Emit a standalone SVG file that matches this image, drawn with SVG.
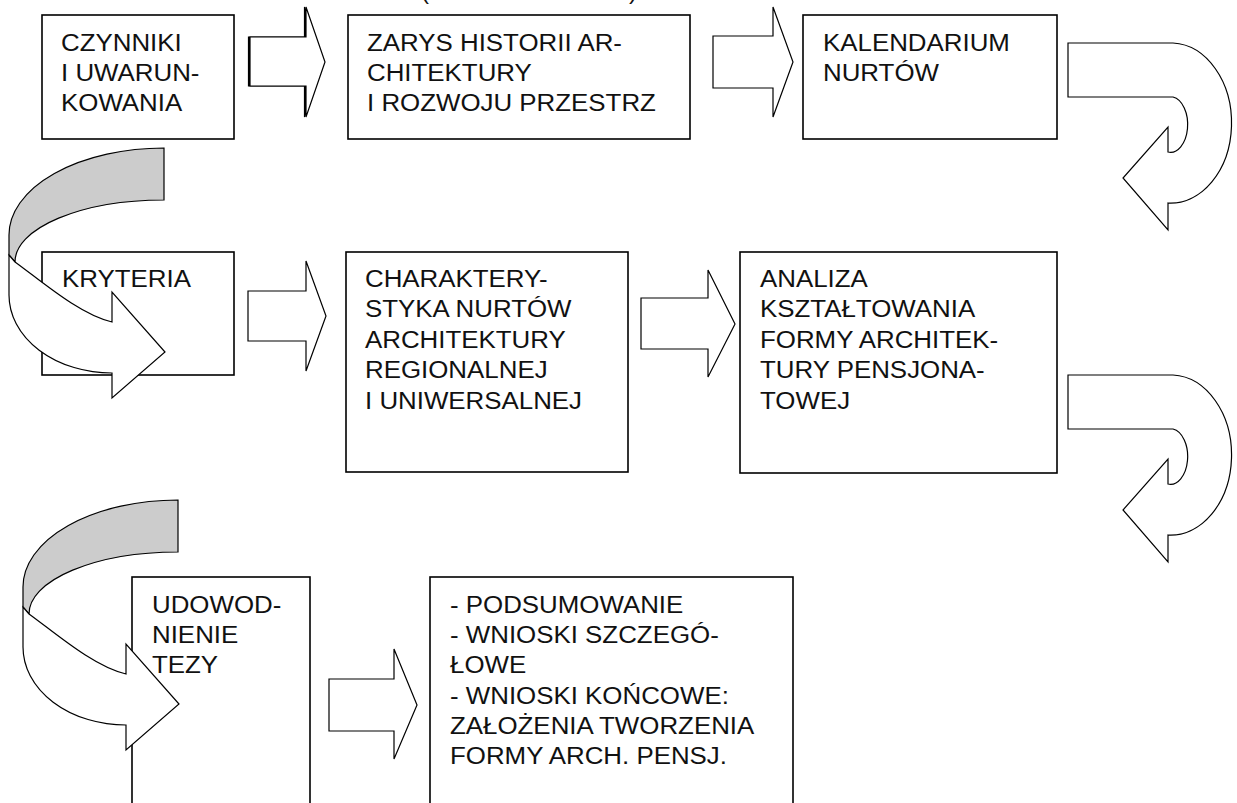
<svg xmlns="http://www.w3.org/2000/svg" width="1237" height="803" viewBox="0 0 1237 803">
<style>
.box{fill:#fff;stroke:#000;stroke-width:1.6}
.arr{fill:#fff;stroke:#000;stroke-width:1.2;stroke-linejoin:miter}
.gray{fill:#cccccc;stroke:#000;stroke-width:1.2}
.t{font-family:"Liberation Sans",Arial,sans-serif;font-size:24.3px;fill:#111}
</style>
<rect width="1237" height="803" fill="#fff"/>
<text class="t" x="421" y="-1">(</text>
<text class="t" x="629" y="-1">)</text>
<g id="n1"><rect class="box" x="42" y="15" width="192" height="124"/>
<text class="t" transform="translate(61,50.7) scale(1.065,1)"><tspan x="0" y="0">CZYNNIKI</tspan><tspan x="0" y="30.4">I UWARUN-</tspan><tspan x="0" y="60.8">KOWANIA</tspan></text></g>
<g id="n2"><rect class="box" x="348" y="15" width="342" height="124"/>
<text class="t" transform="translate(367,50.7) scale(1.065,1)"><tspan x="0" y="0">ZARYS HISTORII AR-</tspan><tspan x="0" y="30.4">CHITEKTURY</tspan><tspan x="0" y="60.8">I ROZWOJU PRZESTRZ</tspan></text></g>
<g id="n3"><rect class="box" x="803" y="15" width="254" height="124"/>
<text class="t" transform="translate(823,50.7) scale(1.065,1)"><tspan x="0" y="0">KALENDARIUM</tspan><tspan x="0" y="30.4">NURTÓW</tspan></text></g>
<g id="n4"><rect class="box" x="42" y="252" width="192" height="123"/>
<text class="t" transform="translate(62,287) scale(1.065,1)"><tspan x="0" y="0">KRYTERIA</tspan></text></g>
<g id="n5"><rect class="box" x="346" y="252" width="282" height="220"/>
<text class="t" transform="translate(365,287) scale(1.065,1)"><tspan x="0" y="0">CHARAKTERY-</tspan><tspan x="0" y="30.4">STYKA NURTÓW</tspan><tspan x="0" y="60.8">ARCHITEKTURY</tspan><tspan x="0" y="91.2">REGIONALNEJ</tspan><tspan x="0" y="121.6">I UNIWERSALNEJ</tspan></text></g>
<g id="n6"><rect class="box" x="740" y="252" width="317" height="221"/>
<text class="t" transform="translate(760,287) scale(1.065,1)"><tspan x="0" y="0">ANALIZA</tspan><tspan x="0" y="30.4">KSZTAŁTOWANIA</tspan><tspan x="0" y="60.8">FORMY ARCHITEK-</tspan><tspan x="0" y="91.2">TURY PENSJONA-</tspan><tspan x="0" y="121.6">TOWEJ</tspan></text></g>
<g id="n7"><rect class="box" x="132" y="577" width="178" height="260"/>
<text class="t" transform="translate(152,612.7) scale(1.065,1)"><tspan x="0" y="0">UDOWOD-</tspan><tspan x="0" y="30.4">NIENIE</tspan><tspan x="0" y="60.8">TEZY</tspan></text></g>
<g id="n8"><rect class="box" x="430" y="577" width="363" height="260"/>
<text class="t" transform="translate(450,613) scale(1.065,1)"><tspan x="0" y="0">- PODSUMOWANIE</tspan><tspan x="0" y="30.2">- WNIOSKI SZCZEGÓ-</tspan><tspan x="0" y="60.4">ŁOWE</tspan><tspan x="0" y="90.6">- WNIOSKI KOŃCOWE:</tspan><tspan x="0" y="120.8">ZAŁOŻENIA TWORZENIA</tspan><tspan x="0" y="151">FORMY ARCH. PENSJ.</tspan></text></g>
<g id="connectors">
<path d="M248.5,37 L304.5,37 L304.5,7 L323.5,62 L304.5,117 L304.5,86 L248.5,86 Z" fill="#000" stroke="#000" stroke-width="1.2"/>
<path class="arr" d="M250,37 L306,37 L306,7 L325,62 L306,117 L306,86 L250,86 Z"/>
<path class="arr" d="M713,36 L773,36 L773,7 L793,62 L773,117 L773,88 L713,88 Z"/>
<path class="arr" d="M1068,43 L1173,43 A61,80 0 0 1 1168,203 L1168,230 L1123,178 L1168,127 L1168,152 A17,27.5 0 0 0 1173,97 L1068,97 Z"/>
<path class="gray" d="M164,148 A155,87 0 0 0 9,235 L9,255 L15,262 A149,62 0 0 1 164,200 Z"/>
<path class="arr" d="M15,262 C40,280 80,315 112,322 L112,292 L165,352 L112,398 L112,373 A103,78 0 0 1 9,295 L9,255 Z"/>
<path class="arr" d="M248,291 L306,291 L306,261 L326,316 L306,371 L306,341 L248,341 Z"/>
<path class="arr" d="M641,298 L708,298 L708,270 L735,324 L708,377 L708,349 L641,349 Z"/>
<path class="arr" transform="translate(0,332)" d="M1068,43 L1173,43 A61,80 0 0 1 1168,203 L1168,230 L1123,178 L1168,127 L1168,152 A17,27.5 0 0 0 1173,97 L1068,97 Z"/>
<g transform="translate(14,352)">
<path class="gray" d="M164,148 A155,87 0 0 0 9,235 L9,255 L15,262 A149,62 0 0 1 164,200 Z"/>
<path class="arr" d="M15,262 C40,280 80,315 112,322 L112,292 L165,352 L112,398 L112,373 A103,78 0 0 1 9,295 L9,255 Z"/>
</g>
<path class="arr" d="M329,679 L394,679 L394,649 L417,705 L394,759 L394,731 L329,731 Z"/>
</g>
</svg>
